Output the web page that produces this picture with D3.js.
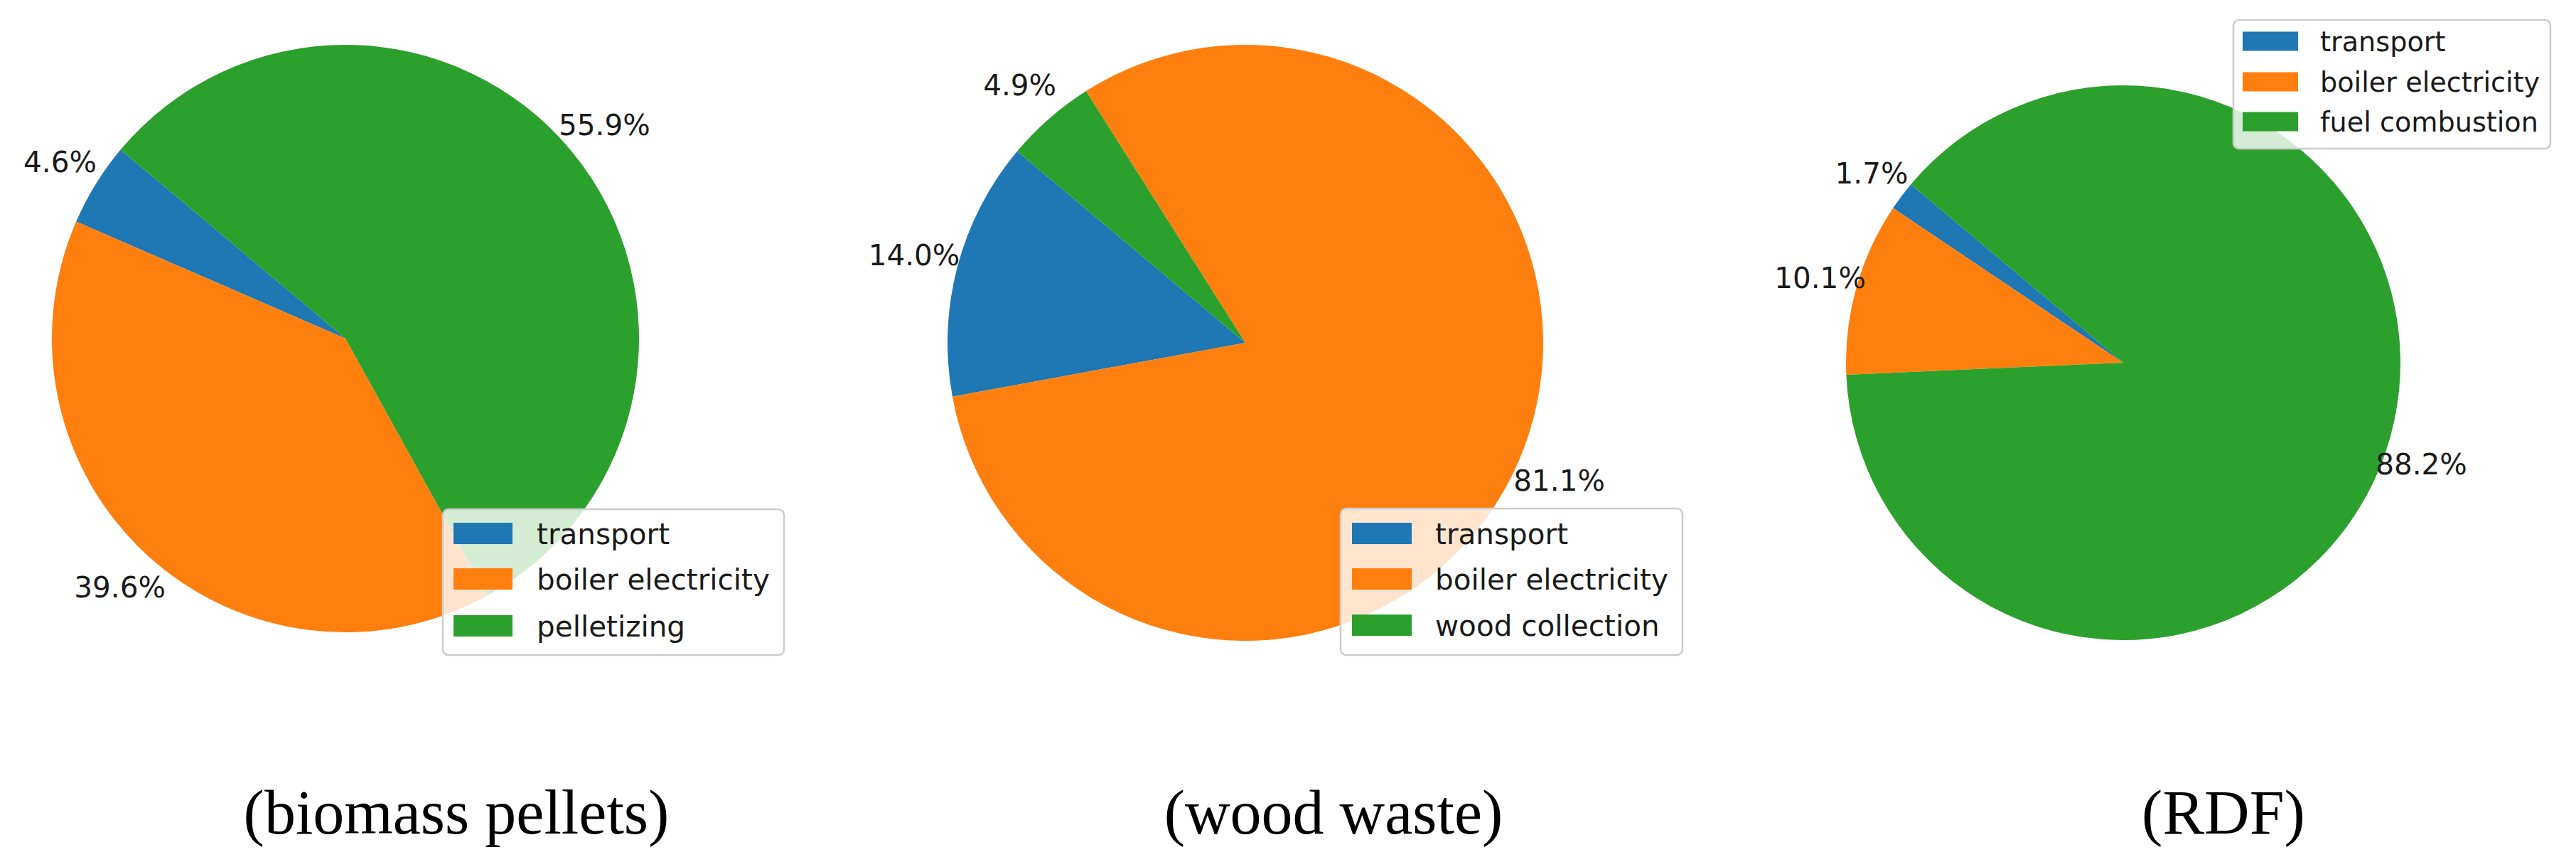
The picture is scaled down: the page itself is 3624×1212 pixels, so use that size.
<!DOCTYPE html>
<html>
<head>
<meta charset="utf-8">
<script src="https://cdn.jsdelivr.net/npm/d3@7"></script>
<style>
  html, body { margin: 0; padding: 0; background: #ffffff; }
  svg { display: block; }
</style>
</head>
<body>
<svg id="chart" width="3624" height="1212"></svg>
<script>
// ---------------- data ----------------
const captions = ["(biomass pellets)", "(wood waste)", "(RDF)"];

const categoriesPellets = ["transport", "boiler electricity", "pelletizing"];
const valuesPellets = [4.6, 39.6, 55.9];

const categoriesWood = ["transport", "boiler electricity", "wood collection"];
const valuesWood = [14.0, 81.1, 4.9];

const categoriesRDF = ["transport", "boiler electricity", "fuel combustion"];
const valuesRDF = [1.7, 10.1, 88.2];

const colors = ["#1f77b4", "#ff7f0e", "#2ca02c"];
const startAngleDeg = 140;   // matplotlib-style start angle, counter-clockwise

// ---------------- layout ----------------
const panels = [
  { cats: categoriesPellets, vals: valuesPellets, caption: captions[0],
    cx: 486, cy: 476, r: 413, labelR: 472, capX: 642,
    legend: { x: 623, y: 716, w: 480, h: 205, fs: 40.5, rowY: [750, 814, 880], swX: 638, swW: 83, swH: 30, txX: 755 } },
  { cats: categoriesWood, vals: valuesWood, caption: captions[1],
    cx: 1752, cy: 482, r: 419, labelR: 482, capX: 1876,
    legend: { x: 1886, y: 715, w: 481, h: 206, fs: 40.5, rowY: [750, 814, 879], swX: 1902, swW: 84, swH: 30, txX: 2019 } },
  { cats: categoriesRDF, vals: valuesRDF, caption: captions[2],
    cx: 2987, cy: 510, r: 390, labelR: 443, capX: 3128,
    legend: { x: 3142, y: 28, w: 446, h: 181, fs: 38.2, rowY: [58, 115, 171], swX: 3155, swW: 78, swH: 27, txX: 3264 } }
];

const svg = d3.select("#chart");
const color = d3.scaleOrdinal().domain([0, 1, 2]).range(colors);
const fmt = d3.format(".1f");
const rad = deg => deg * Math.PI / 180;

panels.forEach(p => {
  // matplotlib angle θ (ccw from +x) -> d3 angle (cw from top) = 90 - θ
  const pie = d3.pie()
    .sort(null)
    .value(d => d)
    .startAngle(rad(90 - startAngleDeg))
    .endAngle(rad(90 - startAngleDeg - 360));

  const arcs = pie(p.vals);
  const arc = d3.arc().innerRadius(0).outerRadius(p.r);
  const labelArc = d3.arc().innerRadius(p.labelR).outerRadius(p.labelR);

  const g = svg.append("g").attr("transform", `translate(${p.cx},${p.cy})`);

  g.selectAll("path.slice")
    .data(arcs)
    .join("path")
    .attr("class", "slice")
    .attr("d", arc)
    .attr("fill", (d, i) => color(i));

  g.selectAll("text.pct")
    .data(arcs)
    .join("text")
    .attr("class", "pct")
    .attr("x", d => labelArc.centroid(d)[0])
    .attr("y", d => labelArc.centroid(d)[1])
    .attr("dy", "0.36em")
    .attr("text-anchor", "middle")
    .attr("font-family", "DejaVu Sans")
    .attr("font-size", 40.5)
    .attr("fill", "#1a1a1a")
    .text(d => fmt(d.data) + "%");

  // legend
  const L = p.legend;
  const lg = svg.append("g");
  lg.append("rect")
    .attr("x", L.x).attr("y", L.y)
    .attr("width", L.w).attr("height", L.h)
    .attr("rx", 8).attr("ry", 8)
    .attr("fill", "#ffffff").attr("fill-opacity", 0.8)
    .attr("stroke", "#cccccc").attr("stroke-width", 2.5);

  const rows = lg.selectAll("g.row")
    .data(p.cats)
    .join("g")
    .attr("class", "row");

  rows.append("rect")
    .attr("x", L.swX)
    .attr("y", (d, i) => L.rowY[i] - L.swH / 2)
    .attr("width", L.swW)
    .attr("height", L.swH)
    .attr("fill", (d, i) => color(i));

  rows.append("text")
    .attr("x", L.txX)
    .attr("y", (d, i) => L.rowY[i])
    .attr("dy", "0.37em")
    .attr("font-family", "DejaVu Sans")
    .attr("font-size", L.fs)
    .attr("fill", "#1a1a1a")
    .text(d => d);

  // caption
  svg.append("text")
    .attr("x", p.capX)
    .attr("y", 1172)
    .attr("text-anchor", "middle")
    .attr("font-family", "Liberation Serif")
    .attr("font-size", 88)
    .attr("fill", "#000000")
    .text(p.caption);
});
</script>
</body>
</html>
